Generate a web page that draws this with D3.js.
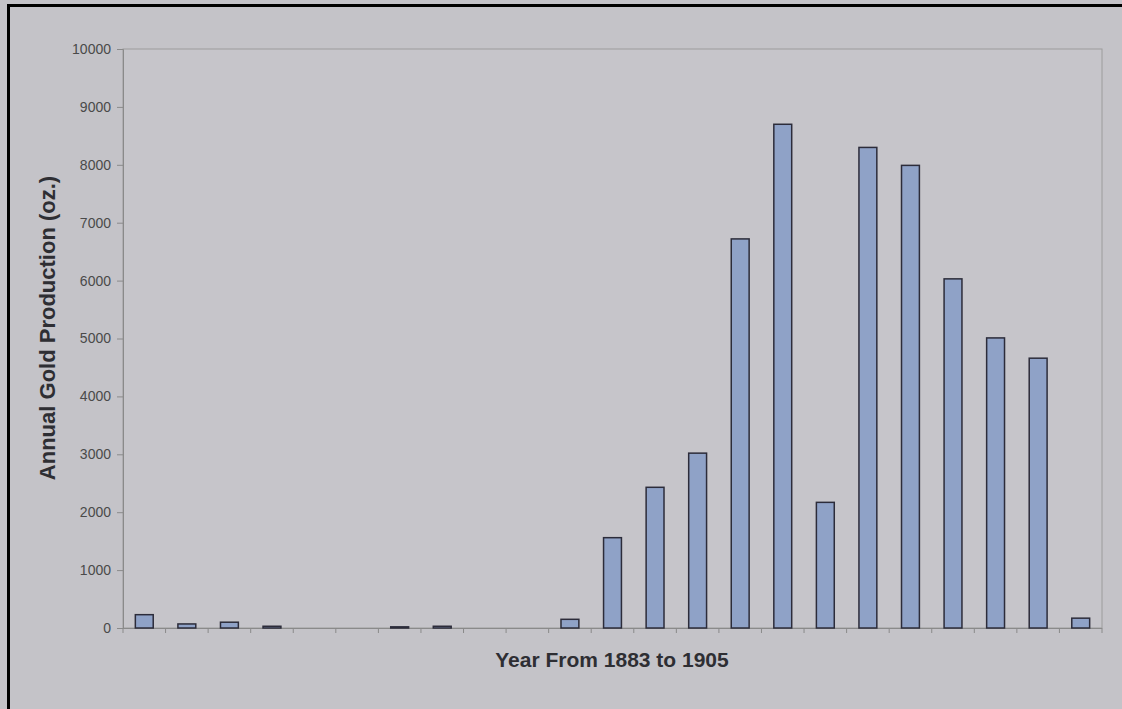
<!DOCTYPE html>
<html>
<head>
<meta charset="utf-8">
<script src="https://cdn.jsdelivr.net/npm/d3@7"></script>
<style>
  body { margin: 0; background: #c4c3c8; }
  svg { display: block; }
</style>
</head>
<body>
<svg></svg>
<script>

var width = 1122;
var height = 709;

// years 1883 .. 1905
var years = ["1883", "1884", "1885", "1886", "1887", "1888", "1889", "1890",
    "1891", "1892", "1893", "1894", "1895", "1896", "1897", "1898", "1899",
    "1900", "1901", "1902", "1903", "1904", "1905"];

// annual gold production (oz.)
var ounces = [230, 70, 100, 30, 0, 0, 20, 30, 0, 0, 150, 1560, 2430, 3020,
    6720, 8700, 2170, 8300, 7990, 6030, 5010, 4660, 170];

var yTicks = [0, 1000, 2000, 3000, 4000, 5000, 6000, 7000, 8000, 9000, 10000];

var margin = { left: 123, right: 20, top: 49, bottom: 81 };

var svg = d3.select('svg')
    .attr('width', width)
    .attr('height', height);

svg.append('rect')
    .attr('width', width).attr('height', height)
    .attr('fill', '#c4c3c8');

// black frame of the scan (top + left)
svg.append('path')
    .attr('d', 'M8.5,' + height + 'V5.5H' + width)
    .attr('fill', 'none')
    .attr('stroke', '#000')
    .attr('stroke-width', 3);

//..................................................................................//

var x = d3.scaleBand()
    .domain(years)
    .range([margin.left, width - margin.right])
    .paddingInner(0.58)
    .paddingOuter(0.29);

var y = d3.scaleLinear()
    .domain([0, 10000])
    .range([height - margin.bottom, margin.top]);

// plot frame
svg.append('rect')
    .attr('x', margin.left)
    .attr('y', margin.top)
    .attr('width', width - margin.right - margin.left)
    .attr('height', height - margin.bottom - margin.top)
    .attr('fill', '#c6c5ca')
    .attr('stroke', '#9c9c9c')
    .attr('stroke-width', 1);

// y axis
var yAxis = d3.axisLeft(y)
    .tickValues(yTicks)
    .tickFormat(d3.format('d'))
    .tickSize(6)
    .tickPadding(6);

var gy = svg.append('g')
    .attr('transform', 'translate(' + margin.left + ',0)')
    .call(yAxis);
gy.select('.domain').attr('stroke', '#8a8a8a');
gy.selectAll('.tick line').attr('stroke', '#8a8a8a');
gy.selectAll('.tick text')
    .attr('fill', '#4a4a4a')
    .style('font-family', 'Liberation Sans, Arial, sans-serif')
    .style('font-size', '14px');

// x axis: ticks between categories, no labels
var bounds = d3.range(years.length + 1).map(function (i) {
    return margin.left + i * (width - margin.right - margin.left) / years.length;
});
svg.append('line')
    .attr('x1', margin.left).attr('x2', width - margin.right)
    .attr('y1', y(0) + 0.5).attr('y2', y(0) + 0.5)
    .attr('stroke', '#8a8a8a');
svg.selectAll('.xtick')
    .data(bounds)
    .enter()
    .append('line')
    .attr('class', 'xtick')
    .attr('x1', function (d) { return d; })
    .attr('x2', function (d) { return d; })
    .attr('y1', y(0))
    .attr('y2', y(0) + 5)
    .attr('stroke', '#8a8a8a');

// bars
svg.selectAll('.bar')
    .data(years.map(function (yr, i) { return { year: yr, v: ounces[i] }; })
        .filter(function (d) { return d.v > 0; }))
    .enter()
    .append('rect')
    .attr('class', 'bar')
    .attr('x', function (d) { return x(d.year); })
    .attr('y', function (d) { return y(d.v); })
    .attr('width', x.bandwidth())
    .attr('height', function (d) { return y(0) - y(d.v); })
    .attr('fill', '#8fa2c7')
    .attr('stroke', '#2c2c3a')
    .attr('stroke-width', 1.5);

// titles
svg.append('text')
    .attr('x', 612)
    .attr('y', 667)
    .attr('text-anchor', 'middle')
    .attr('fill', '#2e2e33')
    .style('font-family', 'Liberation Sans, Arial, sans-serif')
    .style('font-weight', 'bold')
    .style('font-size', '21px')
    .text('Year From 1883 to 1905');

svg.append('text')
    .attr('transform', 'translate(55,' + 328 + ') rotate(-90)')
    .attr('text-anchor', 'middle')
    .attr('fill', '#2e2e33')
    .style('font-family', 'Liberation Sans, Arial, sans-serif')
    .style('font-weight', 'bold')
    .style('font-size', '22px')
    .text('Annual Gold Production (oz.)');

</script>
</body>
</html>
